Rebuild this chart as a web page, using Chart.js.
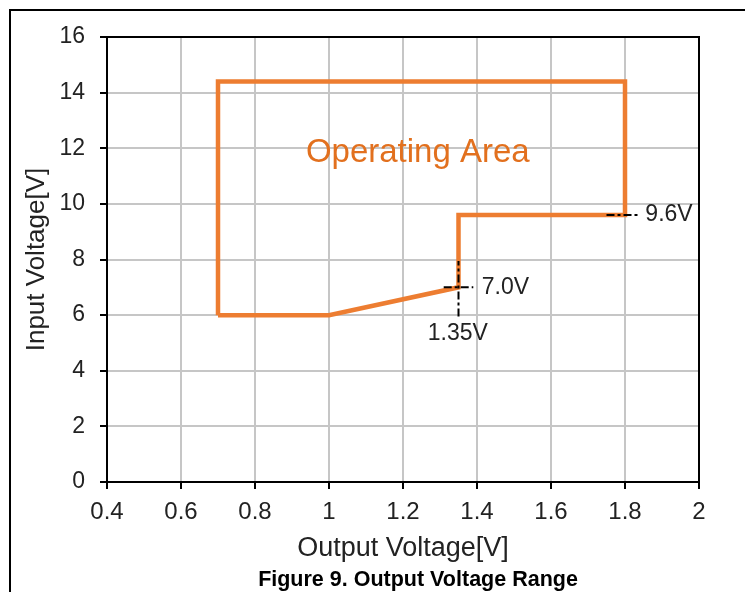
<!DOCTYPE html>
<html>
<head>
<meta charset="utf-8">
<script src="https://cdn.jsdelivr.net/npm/chart.js@4/dist/chart.umd.min.js"></script>
<style>
    body { margin: 0; background: #fff; overflow: hidden; }
    #frame { position: absolute; left: 9px; top: 9px; width: 760px; height: 620px; border: 2px solid #000; }
    #chart { position: absolute; left: 0; top: 0; }
    #caption {
        position: absolute; left: 218px; top: 567px; width: 400px; text-align: center;
        font: bold 21.5px 'Liberation Sans', Arial, sans-serif; line-height: 25px; color: #000;
    }
</style>
</head>
<body>
<div id="frame"></div>
<canvas id="chart" width="745" height="592"></canvas>
<div id="caption">Figure 9. Output Voltage Range</div>
<script>
// operating area outline (output V, input V)
const areaX = [0.7, 0.7, 1.8, 1.8, 1.35, 1.35, 1.0, 0.7];
const areaY = [6.0, 14.4, 14.4, 9.6, 9.6, 7.0, 6.0, 6.0];

// dash-dot marker lines
const mark70X = [1.31, 1.39];
const mark70Y = [7.0, 7.0];
const mark135X = [1.35, 1.35];
const mark135Y = [5.95, 7.95];
const mark96X = [1.75, 1.84];
const mark96Y = [9.6, 9.6];

// axis ticks
const xTicks = [0.4, 0.6, 0.8, 1.0, 1.2, 1.4, 1.6, 1.8, 2.0];
const xTickLabels = ["0.4", "0.6", "0.8", "1", "1.2", "1.4", "1.6", "1.8", "2"];
const yTicks = [0, 2, 4, 6, 8, 10, 12, 14, 16];
const yTickLabels = ["0", "2", "4", "6", "8", "10", "12", "14", "16"];

// text labels on the plot
const noteText = ["Operating Area", "9.6V", "7.0V", "1.35V"];
const noteX = [1.24, 1.855, 1.413, 1.348];
const noteY = [11.85, 9.6, 7.0, 5.35];

const FONT = "'Liberation Sans', Arial, sans-serif";
const ORANGE = "#ED7D31";

function pts(xs, ys) {
    return xs.map((x, i) => ({ x: x, y: ys[i] }));
}

function markLine(xs, ys) {
    return {
        data: pts(xs, ys),
        showLine: true,
        borderColor: "#000",
        borderWidth: 2,
        borderDash: [8, 3, 3, 3],
        pointRadius: 0,
        fill: false,
    };
}

// black frame round the plot area (top and right sides)
const plotFrame = {
    id: "plotFrame",
    beforeDatasetsDraw(chart) {
        const a = chart.chartArea;
        const ctx = chart.ctx;
        ctx.save();
        ctx.strokeStyle = "#000";
        ctx.lineWidth = 2;
        ctx.strokeRect(a.left, a.top, a.right - a.left, a.bottom - a.top);
        ctx.restore();
    },
};

const notes = {
    id: "notes",
    afterDatasetsDraw(chart) {
        const ctx = chart.ctx;
        const xs = chart.scales.x;
        const ys = chart.scales.y;
        ctx.save();
        ctx.textBaseline = "middle";
        noteText.forEach((t, i) => {
            const px = xs.getPixelForValue(noteX[i]);
            const py = ys.getPixelForValue(noteY[i]);
            if (i === 0) {
                ctx.font = "33px " + FONT;
                ctx.fillStyle = "#E2701E";
                ctx.textAlign = "center";
            } else {
                ctx.font = "23px " + FONT;
                ctx.fillStyle = "#222";
                ctx.textAlign = i === 3 ? "center" : "left";
            }
            ctx.fillText(t, px, py);
        });
        ctx.restore();
    },
};

new Chart(document.getElementById("chart"), {
    type: "scatter",
    data: {
        datasets: [
            markLine(mark70X, mark70Y),
            markLine(mark135X, mark135Y),
            markLine(mark96X, mark96Y),
            {
                data: pts(areaX, areaY),
                showLine: true,
                borderColor: ORANGE,
                borderWidth: 4.5,
                pointRadius: 0,
                fill: false,
                borderJoinStyle: "miter",
            },
        ],
    },
    options: {
        responsive: false,
        animation: false,
        layout: { padding: { left: 17, right: 46, top: 37, bottom: 25 } },
        plugins: {
            legend: { display: false },
            tooltip: { enabled: false },
            title: { display: false },
        },
        scales: {
            x: {
                type: "linear",
                min: 0.4,
                max: 2,
                afterBuildTicks: (s) => { s.ticks = xTicks.map((v) => ({ value: v })); },
                afterFit: (s) => { s.height = 85; },
                ticks: {
                    callback: (v, i) => xTickLabels[i],
                    color: "#222",
                    padding: 9,
                    font: { family: FONT, size: 24 },
                    maxRotation: 0,
                },
                grid: { color: "#c6c6c6", lineWidth: 2, tickColor: "#000", tickLength: 7, tickWidth: 2 },
                border: { color: "#000", width: 2 },
                title: {
                    display: true,
                    text: "Output Voltage[V]",
                    color: "#222",
                    font: { family: FONT, size: 27 },
                    padding: { top: 0, bottom: 2 },
                },
            },
            y: {
                type: "linear",
                min: 0,
                max: 16,
                afterBuildTicks: (s) => { s.ticks = yTicks.map((v) => ({ value: v })); },
                afterFit: (s) => { s.width = 90; },
                ticks: {
                    callback: (v, i) => yTickLabels[i],
                    color: "#222",
                    padding: 15,
                    font: { family: FONT, size: 23 },
                },
                grid: { color: "#c6c6c6", lineWidth: 2, tickColor: "#000", tickLength: 7, tickWidth: 2 },
                border: { color: "#000", width: 2 },
                title: {
                    display: true,
                    text: "Input Voltage[V]",
                    color: "#222",
                    font: { family: FONT, size: 26 },
                    padding: { top: 4, bottom: 0 },
                },
            },
        },
    },
    plugins: [plotFrame, notes],
});
</script>
</body>
</html>
